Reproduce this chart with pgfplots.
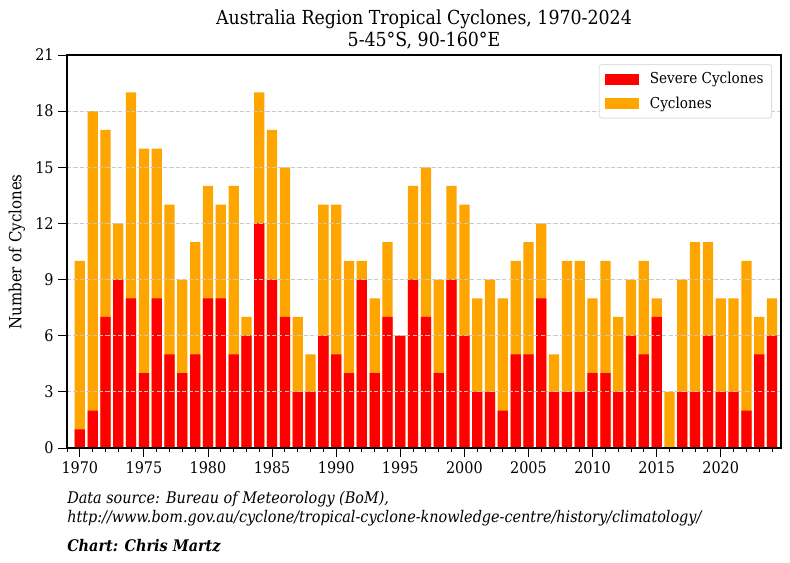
\documentclass[border=0pt]{standalone}
\usepackage{pgfplots}
\pgfplotsset{compat=1.18}
\usepackage{pgfplotstable}
\usepackage{fontspec}
\setmainfont{DejaVu Serif Condensed}
\definecolor{sev}{HTML}{FF0000}
\definecolor{cyc}{HTML}{FFA500}
\definecolor{gridc}{HTML}{C8C8C8}
\newcommand\tl[1]{{\fontsize{12}{14}\selectfont #1}}
\pgfplotstableread{
year total severe
1970 10 1
1971 18 2
1972 17 7
1973 12 9
1974 19 8
1975 16 4
1976 16 8
1977 13 5
1978 9 4
1979 11 5
1980 14 8
1981 13 8
1982 14 5
1983 7 6
1984 19 12
1985 17 9
1986 15 7
1987 7 3
1988 5 3
1989 13 6
1990 13 5
1991 10 4
1992 10 9
1993 8 4
1994 11 7
1995 6 6
1996 14 9
1997 15 7
1998 9 4
1999 14 9
2000 13 6
2001 8 3
2002 9 3
2003 8 2
2004 10 5
2005 11 5
2006 12 8
2007 5 3
2008 10 3
2009 10 3
2010 8 4
2011 10 4
2012 7 3
2013 9 6
2014 10 5
2015 8 7
2016 3 0
2017 9 3
2018 11 3
2019 11 6
2020 8 3
2021 8 3
2022 10 2
2023 7 5
2024 8 6
}\datatable
\begin{document}
\begin{tikzpicture}
\path[use as bounding box] (0,0) rectangle (592.5pt,422.25pt);
\begin{axis}[
  at={(50.25pt,86.25pt)}, anchor=south west,
  scale only axis,
  width=535.5pt, height=294.75pt,
  xmin=1969, xmax=2024.7,
  ymin=0, ymax=21,
  ytick={0,3,6,9,12,15,18,21},
  yticklabels={\tl{0},\tl{3},\tl{6},\tl{9},\tl{12},\tl{15},\tl{18},\tl{21}},
  xtick={1970,1975,1980,1985,1990,1995,2000,2005,2010,2015,2020},
  xticklabels={\tl{1970},\tl{1975},\tl{1980},\tl{1985},\tl{1990},\tl{1995},\tl{2000},\tl{2005},\tl{2010},\tl{2015},\tl{2020}},
  minor xtick={1969,1970,...,2024},
  tick label style={black},
  tick align=outside,
  xtick pos=lower, ytick pos=left,
  major tick length=6.5pt, minor tick length=3.2pt,
  every tick/.style={black, line width=0.7pt},
  ymajorgrids,
  major grid style={gridc, dash pattern=on 3.2pt off 1.6pt, line width=0.6pt},
  axis on top,
  axis line style={black, line width=0.9pt},
  ybar, bar width=0.8, bar shift=0pt,
  legend style={at={(0.9874,0.977)}, anchor=north east,
    draw=gray!25, rounded corners=2pt, line width=0.7pt,
    font=\fontsize{11.3}{13.5}\selectfont,
    row sep=4pt, inner xsep=4pt, inner ysep=4pt,
    cells={anchor=west}},
  legend image code/.code={\fill[#1, sharp corners] (0pt,-4pt) rectangle (25.5pt,4pt);
    \path (32pt,0pt);},
  reverse legend,
]
\addplot[draw=none, fill=cyc] table[x=year, y=total] {\datatable};
\addlegendentry{Cyclones}
\addplot[draw=none, fill=sev] table[x=year, y=severe] {\datatable};
\addlegendentry{Severe Cyclones}
\end{axis}
\node[rotate=90, inner sep=0pt, font=\fontsize{12.5}{15}\selectfont] at (12.75pt,233.25pt) {Number of Cyclones};
\node[align=center, font=\fontsize{14.5}{16.5}\selectfont, inner sep=0pt] at (318pt,400.5pt) {Australia Region Tropical Cyclones, 1970-2024\\5-45°S, 90-160°E};
\node[anchor=west, inner sep=0pt, font=\fontsize{12}{14}\selectfont\itshape] at (50.25pt,47.5pt) {Data source: Bureau of Meteorology (BoM),};
\node[anchor=west, inner sep=0pt, font=\fontsize{12}{14}\selectfont\itshape] at (50.25pt,33.5pt) {http://www.bom.gov.au/cyclone/tropical-cyclone-knowledge-centre/history/climatology/};
\node[anchor=west, inner sep=0pt, font=\fontsize{12}{14}\selectfont\itshape\bfseries] at (50.25pt,12.8pt) {Chart: Chris Martz};
\end{tikzpicture}
\end{document}
